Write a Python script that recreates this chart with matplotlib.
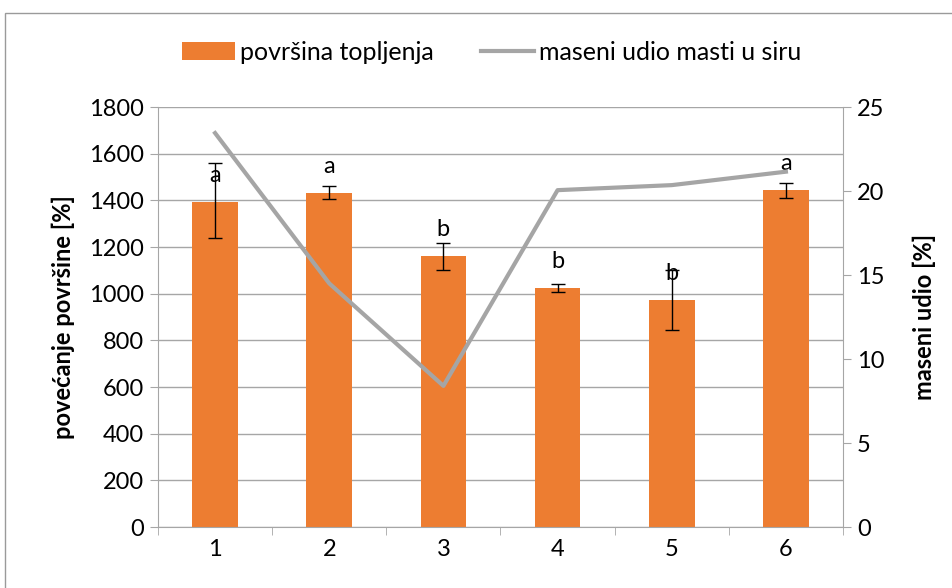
import matplotlib; matplotlib.use("Agg")
import matplotlib.pyplot as plt
from matplotlib.patches import Rectangle
import numpy as np

plt.rcParams["font.family"] = ["Lato", "DejaVu Sans"]

# data
kategorije = ["1", "2", "3", "4", "5", "6"]
povrsina = [1395, 1432, 1162, 1025, 973, 1443]
err_gore = [165, 30, 57, 17, 128, 32]
err_dolje = [157, 27, 60, 17, 128, 32]
slova = ["a", "a", "b", "b", "b", "a"]
udio_masti = [23.45, 14.5, 8.4, 20.05, 20.35, 21.15]

BAR = "#ED7D31"; LIN = "#A5A5A5"; GR = "#A6A6A6"; FS = 17

fig = plt.figure(figsize=(9.53, 5.88), dpi=100)
fig.patches.append(Rectangle((5/953, -0.01), 1.0, 1 - 13/588 + 0.01, transform=fig.transFigure,
                             fill=False, ec="#9a9a9a", lw=1.0))
ax = fig.add_axes([158/953, 1 - 527/588, (843 - 158)/953, (527 - 107)/588])
x = np.arange(1, len(kategorije) + 1)
ax.bar(x, povrsina, width=0.4, color=BAR, zorder=2, label="površina topljenja")
ax.errorbar(x, povrsina, yerr=[err_dolje, err_gore], fmt="none", ecolor="black", elinewidth=1,
            capsize=5, capthick=1, zorder=4)
for xi, v, s in zip(x, povrsina, slova):
    ax.annotate(s, (xi, v), xytext=(0, 19), textcoords="offset points", ha="center", va="center",
                fontsize=FS, zorder=5)
ax.set_xlim(0.5, 6.5); ax.set_ylim(0, 1800)
ax.set_yticks(np.arange(0, 1801, 200))
ax.yaxis.grid(True, color=GR, lw=1); ax.set_axisbelow(True)
ax.set_xticks(x); ax.set_xticklabels(kategorije)
ax.set_xticks(np.arange(0.5, 6.6, 1), minor=True)
ax.tick_params(axis="x", which="major", length=0, labelsize=FS, pad=9)
ax.tick_params(axis="x", which="minor", length=6, color=GR, direction="out")
ax.tick_params(axis="y", length=6, color=GR, labelsize=FS, pad=4)
for s in ["top", "right"]: ax.spines[s].set_visible(False)
for s in ["left", "bottom"]: ax.spines[s].set_color(GR)
ax.set_ylabel("povećanje površine [%]", fontsize=FS, fontweight="bold", labelpad=10)

ax2 = ax.twinx()
ax2.plot(x, udio_masti, color=LIN, lw=3, zorder=3, label="maseni udio masti u siru")
ax2.set_ylim(0, 25); ax2.set_yticks(np.arange(0, 26, 5))
ax2.tick_params(axis="y", length=6, color=GR, labelsize=FS, pad=4)
for s in ["top", "left", "bottom"]: ax2.spines[s].set_visible(False)
ax2.spines["right"].set_color(GR)
ax2.set_ylabel("maseni udio [%]", fontsize=FS, fontweight="bold", labelpad=20)

h1, l1 = ax.get_legend_handles_labels(); h2, l2 = ax2.get_legend_handles_labels()
fig.legend(h1 + h2, l1 + l2, loc="center", bbox_to_anchor=(0.516, 1 - 52/588), ncol=2, frameon=False,
           fontsize=18, handlelength=2.1, handleheight=0.75, handletextpad=0.2, columnspacing=1.9)
fig.savefig("out.png", dpi=100)
